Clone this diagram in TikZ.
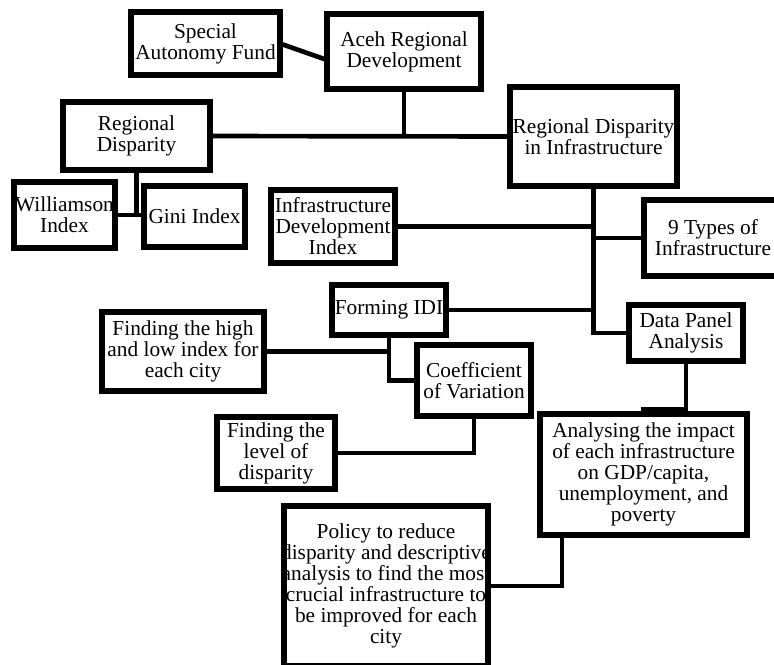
\documentclass[tikz,border=0pt]{standalone}
\usepackage{fontspec}
\setmainfont{Liberation Serif}
\usetikzlibrary{backgrounds}
\tikzset{
  box/.style={draw=black, line width=4.1pt, fill=white, align=center, outer sep=0pt,
    inner xsep=-5pt, inner ysep=0pt, font=\fontsize{16pt}{15.75pt}\selectfont},
  conn/.style={draw=black, line width=3.5pt}
}
\newcommand{\bx}[6]{\node[box, minimum width={(#4-#2)*0.75pt}, minimum height={(#5-#3)*0.75pt}] (#1) at ({(#2+#4)/2},{(#3+#5)/2}) {#6};}
\begin{document}
\begin{tikzpicture}[x=0.75pt,y=-0.75pt]
\useasboundingbox (0,0) rectangle (774,664);
\clip (0,0) rectangle (774,664);
\coordinate (dpaturn) at (686,409);
\bx{saf}{131}{12}{280}{75}{Special\\Autonomy Fund}
\bx{aceh}{327}{14}{481}{89}{Aceh Regional\\Development}
\bx{rd}{63}{102}{210}{170}{Regional\\Disparity}
\bx{rdi}{510}{87}{677}{186}{Regional Disparity\\in Infrastructure}
\bx{will}{14}{182}{115}{248}{Williamson\\Index}
\bx{gini}{144}{186}{245}{247}{Gini Index}
\bx{idi}{271}{190}{395}{263}{Infrastructure\\Development\\Index}
\bx{nine}{644}{200}{782}{276}{9 Types of\\Infrastructure}
\bx{fidi}{332}{285}{446}{335}{Forming IDI}
\bx{dpa}{629}{305}{743}{361}{Data Panel\\Analysis}
\bx{high}{102}{312}{264}{391}{Finding the high\\and low index for\\each city}
\bx{coef}{417}{345}{531}{416}{Coefficient\\of Variation}
\bx{level}{217}{417}{335}{489}{Finding the\\level of\\disparity}
\bx{ana}{540}{414}{747}{535}{Analysing the impact\\of each infrastructure\\on GDP/capita,\\unemployment, and\\poverty}
\bx{pol}{284}{506}{488}{666}{Policy to reduce\\disparity and descriptive\\analysis to find the most\\crucial infrastructure to\\be improved for each\\city}
\begin{pgfonlayer}{background}
\fill[white] (0,0) rectangle (774,664);
\draw[conn] (saf.east) -- (aceh.west |- 0,60);
\draw[conn] (rd.east) -- (rdi.west);
\draw[conn] (aceh.south) -- (aceh.south |- rd.east);
\draw[conn] (rd.south) -- (rd.south |- will.east);
\draw[conn] (will.east) -- (will.east -| gini.west);
\draw[conn] (rdi.south) -- (rdi.south |- dpa.west) -- (dpa.west);
\draw[conn] (idi.east) -- (idi.east -| rdi.south);
\draw[conn] (nine.west) -- (nine.west -| rdi.south);
\draw[conn] (fidi.east) -- (fidi.east -| rdi.south);
\draw[conn] (fidi.south) -- (fidi.south |- coef.west) -- (coef.west);
\draw[conn] (high.east) -- (high.east -| fidi.south);
\draw[conn] (coef.south) |- (level.east);
\draw[conn] (dpa.south) -- (dpaturn) -| (ana.north);
\draw[conn] ([xshift=16.5pt]ana.south west) |- (pol.east);
\end{pgfonlayer}
\end{tikzpicture}
\end{document}
